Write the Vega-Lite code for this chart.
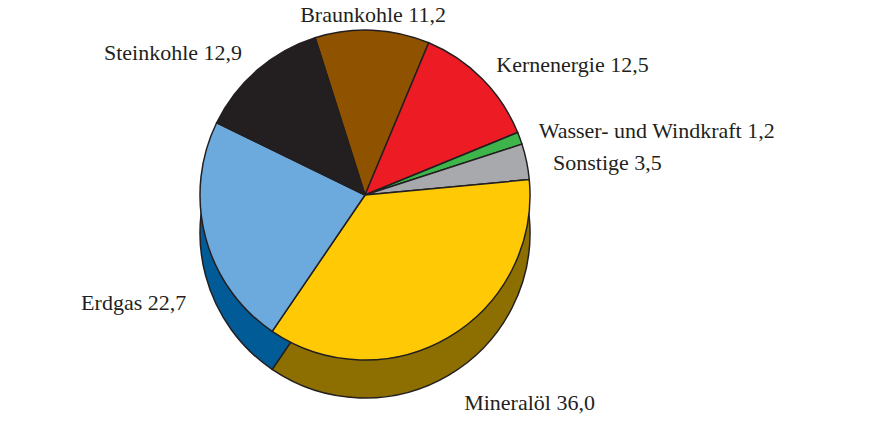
{
  "$schema": "https://vega.github.io/schema/vega-lite/v6.json",
  "width": 730,
  "height": 390,
  "autosize": "none",
  "padding": {"left": 0, "top": 0, "right": 147, "bottom": 36},
  "background": "white",
  "config": {"view": {"stroke": null}},
  "data": {
    "values": [
      {"idx": 1, "name": "Braunkohle", "value": 11.2, "label": "Braunkohle 11,2"},
      {"idx": 2, "name": "Kernenergie", "value": 12.5, "label": "Kernenergie 12,5"},
      {"idx": 3, "name": "Wasser- und Windkraft", "value": 1.2, "label": "Wasser- und Windkraft 1,2"},
      {"idx": 4, "name": "Sonstige", "value": 3.5, "label": "Sonstige 3,5"},
      {"idx": 5, "name": "Mineralöl", "value": 36.0, "label": "Mineralöl 36,0"},
      {"idx": 6, "name": "Erdgas", "value": 22.7, "label": "Erdgas 22,7"},
      {"idx": 7, "name": "Steinkohle", "value": 12.9, "label": "Steinkohle 12,9"}
    ]
  },
  "encoding": {
    "theta": {"field": "value", "type": "quantitative", "stack": true, "scale": {"range": [-0.307, 5.976]}},
    "order": {"field": "idx", "type": "quantitative"}
  },
  "layer": [
    {
      "mark": {"type": "arc", "outerRadius": 165, "yOffset": 38, "stroke": "#231F20", "strokeWidth": 1.5},
      "encoding": {
        "color": {"field": "name", "type": "nominal", "legend": null,
          "scale": {"domain": ["Braunkohle", "Kernenergie", "Wasser- und Windkraft", "Sonstige", "Mineralöl", "Erdgas", "Steinkohle"],
                    "range": ["#5a3400", "#9a1218", "#267230", "#6e7073", "#8C6F00", "#005B96", "#111111"]}}
      }
    },
    {
      "mark": {"type": "arc", "outerRadius": 165, "stroke": "#231F20", "strokeWidth": 1.5},
      "encoding": {
        "fill": {"field": "name", "type": "nominal", "legend": null,
          "scale": {"domain": ["Braunkohle", "Kernenergie", "Wasser- und Windkraft", "Sonstige", "Mineralöl", "Erdgas", "Steinkohle"],
                    "range": ["#8F5300", "#ED1C24", "#3DB54A", "#A7A9AC", "#FFCA05", "#6CAADD", "#231F20"]}}
      }
    },
    {
      "mark": {"type": "text", "radius": 180, "align": "center", "baseline": "middle", "font": "Liberation Serif", "fontSize": 22, "color": "#231F20"},
      "encoding": {"text": {"condition": {"test": "datum.name == 'Braunkohle'", "field": "label"}, "value": ""}}
    },
    {
      "mark": {"type": "text", "radius": 185, "align": "left", "baseline": "middle", "font": "Liberation Serif", "fontSize": 22, "color": "#231F20"},
      "encoding": {"text": {"condition": {"test": "datum.name == 'Kernenergie' || datum.name == 'Wasser- und Windkraft'", "field": "label"}, "value": ""}}
    },
    {
      "mark": {"type": "text", "radius": 192, "dy": 7, "align": "left", "baseline": "middle", "font": "Liberation Serif", "fontSize": 22, "color": "#231F20"},
      "encoding": {"text": {"condition": {"test": "datum.name == 'Sonstige'", "field": "label"}, "value": ""}}
    },
    {
      "mark": {"type": "text", "radius": 188, "align": "right", "baseline": "middle", "font": "Liberation Serif", "fontSize": 22, "color": "#231F20"},
      "encoding": {"text": {"condition": {"test": "datum.name == 'Steinkohle'", "field": "label"}, "value": ""}}
    },
    {
      "mark": {"type": "text", "radius": 195, "dy": 40, "align": "left", "baseline": "middle", "font": "Liberation Serif", "fontSize": 22, "color": "#231F20"},
      "encoding": {"text": {"condition": {"test": "datum.name == 'Mineralöl'", "field": "label"}, "value": ""}}
    },
    {
      "mark": {"type": "text", "radius": 185, "dy": 60, "align": "right", "baseline": "middle", "font": "Liberation Serif", "fontSize": 22, "color": "#231F20"},
      "encoding": {"text": {"condition": {"test": "datum.name == 'Erdgas'", "field": "label"}, "value": ""}}
    }
  ],
  "resolve": {"scale": {"color": "independent", "fill": "independent"}}
}
